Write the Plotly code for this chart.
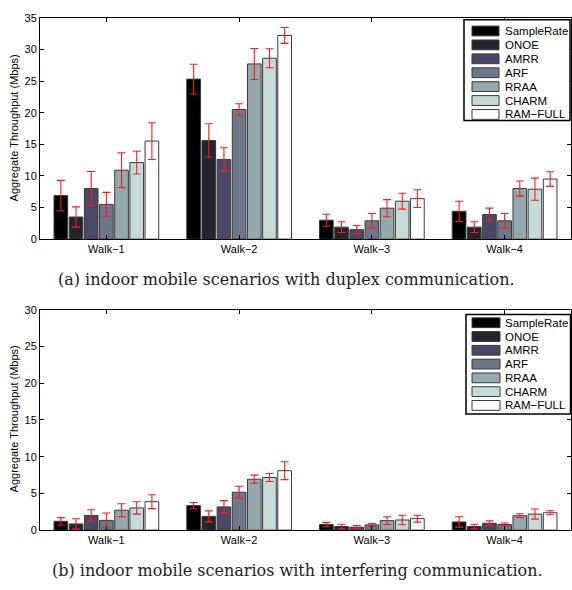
import plotly.graph_objects as go

categories = ["Walk\u22121", "Walk\u22122", "Walk\u22123", "Walk\u22124"]
series_names = ["SampleRate", "ONOE", "AMRR", "ARF", "RRAA", "CHARM", "RAM\u2212FULL"]
colors = ["#000000", "#23232f", "#4a4867", "#6c7889", "#93a9ad", "#c6dbd9", "#ffffff"]

# (a) duplex communication: mean values and error half-widths per series
duplex_vals = [
    [6.9, 25.3, 3.0, 4.4],
    [3.5, 15.6, 1.9, 1.9],
    [8.0, 12.6, 1.5, 3.9],
    [5.5, 20.5, 2.9, 2.9],
    [10.9, 27.7, 4.9, 8.0],
    [12.1, 28.6, 6.0, 7.9],
    [15.5, 32.2, 6.4, 9.5],
]
duplex_err = [
    [2.4, 2.35, 0.95, 1.6],
    [1.6, 2.65, 0.85, 0.85],
    [2.7, 1.85, 0.67, 1.0],
    [1.9, 0.9, 1.15, 1.15],
    [2.75, 2.45, 1.35, 1.2],
    [1.8, 1.5, 1.25, 1.75],
    [2.9, 1.25, 1.4, 1.15],
]

# (b) interfering communication
interf_vals = [
    [1.2, 3.33, 0.76, 1.11],
    [0.84, 1.87, 0.49, 0.49],
    [2.0, 3.16, 0.4, 0.93],
    [1.33, 5.16, 0.71, 0.76],
    [2.71, 6.93, 1.29, 1.96],
    [3.02, 7.16, 1.38, 2.18],
    [3.87, 8.09, 1.56, 2.36],
]
interf_err = [
    [0.5, 0.42, 0.3, 0.7],
    [0.7, 0.75, 0.3, 0.3],
    [0.78, 0.85, 0.22, 0.33],
    [1.0, 0.8, 0.2, 0.2],
    [0.87, 0.55, 0.53, 0.27],
    [0.85, 0.55, 0.65, 0.69],
    [0.95, 1.22, 0.47, 0.27],
]

captions = [
    "(a) indoor mobile scenarios with duplex communication.",
    "(b) indoor mobile scenarios with interfering communication.",
]
y_title = "Aggregate Throughput (Mbps)"
y_ticks_top = [0, 5, 10, 15, 20, 25, 30, 35]
y_ticks_bot = [0, 5, 10, 15, 20, 25, 30]

W, H = 572, 590
fig = go.Figure()

for panel, (vals, errs, xa, ya) in enumerate(
    [(duplex_vals, duplex_err, "x", "y"), (interf_vals, interf_err, "x2", "y2")]
):
    for i, name in enumerate(series_names):
        fig.add_trace(go.Bar(
            x=categories, y=vals[i], name=name, xaxis=xa, yaxis=ya,
            marker=dict(color=colors[i], line=dict(color="#3a3a3a", width=1)),
            error_y=dict(type="data", array=errs[i], color="#ff1a1a",
                         thickness=1.1, width=4),
            showlegend=False, offsetgroup=str(i),
        ))

font_sans = "Liberation Sans, Arial, sans-serif"
axis_common = dict(
    showline=True, linecolor="black", linewidth=1, mirror="ticks",
    ticks="inside", ticklen=4, tickcolor="black", showgrid=False,
    zeroline=False, tickfont=dict(family=font_sans, size=11, color="black"),
)

top_dom = [1 - 238 / H, 1 - 12 / H]
bot_dom = [1 - 535 / H, 1 - 310 / H]
x_dom = [40 / W, 571 / W]

fig.update_layout(
    width=W, height=H, margin=dict(l=0, r=0, t=0, b=0),
    paper_bgcolor="white", plot_bgcolor="white",
    barmode="group", bargap=0.2, bargroupgap=0.1,
    xaxis=dict(domain=x_dom, anchor="y", range=[-0.5, 3.5], **axis_common),
    yaxis=dict(domain=top_dom, anchor="x", range=[0, 35], tickvals=y_ticks_top,
               **axis_common),
    xaxis2=dict(domain=x_dom, anchor="y2", range=[-0.5, 3.5], **axis_common),
    yaxis2=dict(domain=bot_dom, anchor="x2", range=[0, 30], tickvals=y_ticks_bot,
                **axis_common),
    font=dict(family=font_sans, color="black"),
)

# axis titles
annotations = []
for yc in [125, 422]:
    annotations.append(dict(
        text=y_title, xref="paper", yref="paper", x=14 / W, y=1 - yc / H,
        textangle=-90, showarrow=False, xanchor="center", yanchor="middle",
        font=dict(family=font_sans, size=11, color="black"),
    ))
# captions
for cap, (cx, cy) in zip(captions, [(286, 279), (297, 576)]):
    annotations.append(dict(
        text=cap, xref="paper", yref="paper", x=cx / W, y=1 - cy / H,
        showarrow=False, xanchor="center", yanchor="middle",
        font=dict(family="DejaVu Serif, serif", size=16, color="#222222"),
    ))

# legends (drawn as boxes, swatches and text)
shapes = []
for (bx0, by0, bx1, by1, row0, pitch, sx0, sx1, tx) in [
    (464, 14, 570, 117, 25.5, 14.2, 472, 499, 502.5),
    (466, 315, 570.5, 416.5, 323.3, 14.07, 472, 500, 503),
]:
    shapes.append(dict(type="rect", xref="paper", yref="paper",
                       x0=bx0 / W, x1=bx1 / W, y0=1 - by1 / H, y1=1 - by0 / H,
                       line=dict(color="black", width=1.5), fillcolor="white"))
    for i, name in enumerate(series_names):
        yc = row0 + i * pitch
        shapes.append(dict(type="rect", xref="paper", yref="paper",
                           x0=sx0 / W, x1=sx1 / W,
                           y0=1 - (yc + 5) / H, y1=1 - (yc - 5) / H,
                           line=dict(color="#3a3a3a", width=1), fillcolor=colors[i]))
        annotations.append(dict(
            text=name, xref="paper", yref="paper", x=tx / W, y=1 - yc / H,
            showarrow=False, xanchor="left", yanchor="middle",
            font=dict(family=font_sans, size=11.5, color="black"),
        ))

fig.update_layout(annotations=annotations, shapes=shapes)
fig.write_html("out.html")
